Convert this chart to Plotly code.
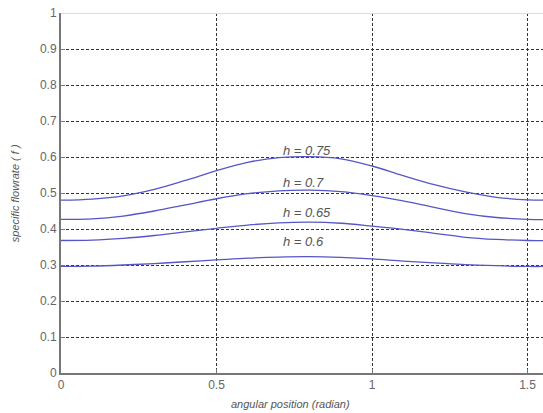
import plotly.graph_objects as go

theta = [0, 0.1, 0.2, 0.3, 0.4, 0.5, 0.6, 0.7, 0.8, 0.9, 1.0, 1.1, 1.2, 1.3, 1.4, 1.5, 1.5708]
f_075 = [0.480, 0.483, 0.492, 0.510, 0.535, 0.562, 0.585, 0.598, 0.601, 0.595, 0.575, 0.548, 0.523, 0.503, 0.488, 0.481, 0.480]
f_070 = [0.427, 0.428, 0.436, 0.450, 0.467, 0.484, 0.498, 0.506, 0.508, 0.504, 0.493, 0.478, 0.460, 0.443, 0.432, 0.427, 0.426]
f_065 = [0.368, 0.369, 0.374, 0.382, 0.392, 0.402, 0.411, 0.417, 0.419, 0.416, 0.408, 0.399, 0.388, 0.377, 0.371, 0.368, 0.368]
f_060 = [0.296, 0.297, 0.300, 0.304, 0.309, 0.314, 0.319, 0.322, 0.323, 0.321, 0.317, 0.311, 0.306, 0.301, 0.298, 0.296, 0.296]

series = [("h = 0.75", f_075), ("h = 0.7", f_070), ("h = 0.65", f_065), ("h = 0.6", f_060)]
label_x = [0.79, 0.78, 0.79, 0.78]
label_y = [0.617, 0.528, 0.447, 0.364]

x_ticks = [0, 0.5, 1, 1.5]
x_tick_text = ["0", "0.5", "1", "1.5"]
y_ticks = [0, 0.1, 0.2, 0.3, 0.4, 0.5, 0.6, 0.7, 0.8, 0.9, 1]
y_tick_text = ["0", "0.1", "0.2", "0.3", "0.4", "0.5", "0.6", "0.7", "0.8", "0.9", "1"]

fig = go.Figure()
for name, vals in series:
    fig.add_trace(go.Scatter(x=theta, y=vals, mode="lines", name=name,
                             line=dict(color="#5656c8", width=1.3, shape="spline"),
                             showlegend=False))

for (name, _), lx, ly in zip(series, label_x, label_y):
    fig.add_annotation(x=lx, y=ly, text="<i>" + name + "</i>", showarrow=False,
                       font=dict(family="Liberation Sans, Arial", size=13, color="#555555"))

fig.add_shape(type="line", xref="paper", yref="y", x0=0, x1=1, y0=1, y1=1,
              line=dict(color="#dddddd", width=2))

fig.add_annotation(xref="paper", yref="paper", x=(290 - 61) / 482, y=-0.085,
                   text="<i>angular position (radian)</i>", showarrow=False,
                   yanchor="middle",
                   font=dict(family="Liberation Sans, Arial", size=11, color="#555555"))
fig.add_annotation(xref="paper", yref="paper", x=-0.095, y=0.5, textangle=-90,
                   text="<i>specific flowrate ( f )</i>", showarrow=False,
                   xanchor="center",
                   font=dict(family="Liberation Sans, Arial", size=11, color="#555555"))

fig.update_layout(
    width=543, height=413,
    margin=dict(l=61, r=0, t=13, b=40),
    paper_bgcolor="white", plot_bgcolor="white",
    font=dict(family="Liberation Sans, Arial", size=12, color="#666666"),
)
fig.update_xaxes(range=[0, 482 / 311], tickvals=x_ticks, ticktext=x_tick_text,
                 showgrid=True, gridcolor="#333333", griddash="3px,2px", gridwidth=1,
                 showline=True, linecolor="#777777", linewidth=2,
                 ticks="inside", ticklen=4, tickcolor="#777777",
                 zeroline=False, fixedrange=True)
fig.update_yaxes(range=[0, 1], tickvals=y_ticks, ticktext=y_tick_text,
                 showgrid=True, gridcolor="#333333", griddash="3px,2px", gridwidth=1,
                 showline=True, linecolor="#777777", linewidth=2,
                 ticks="inside", ticklen=4, tickcolor="#777777",
                 zeroline=False, fixedrange=True)

fig.write_html("out.html")
